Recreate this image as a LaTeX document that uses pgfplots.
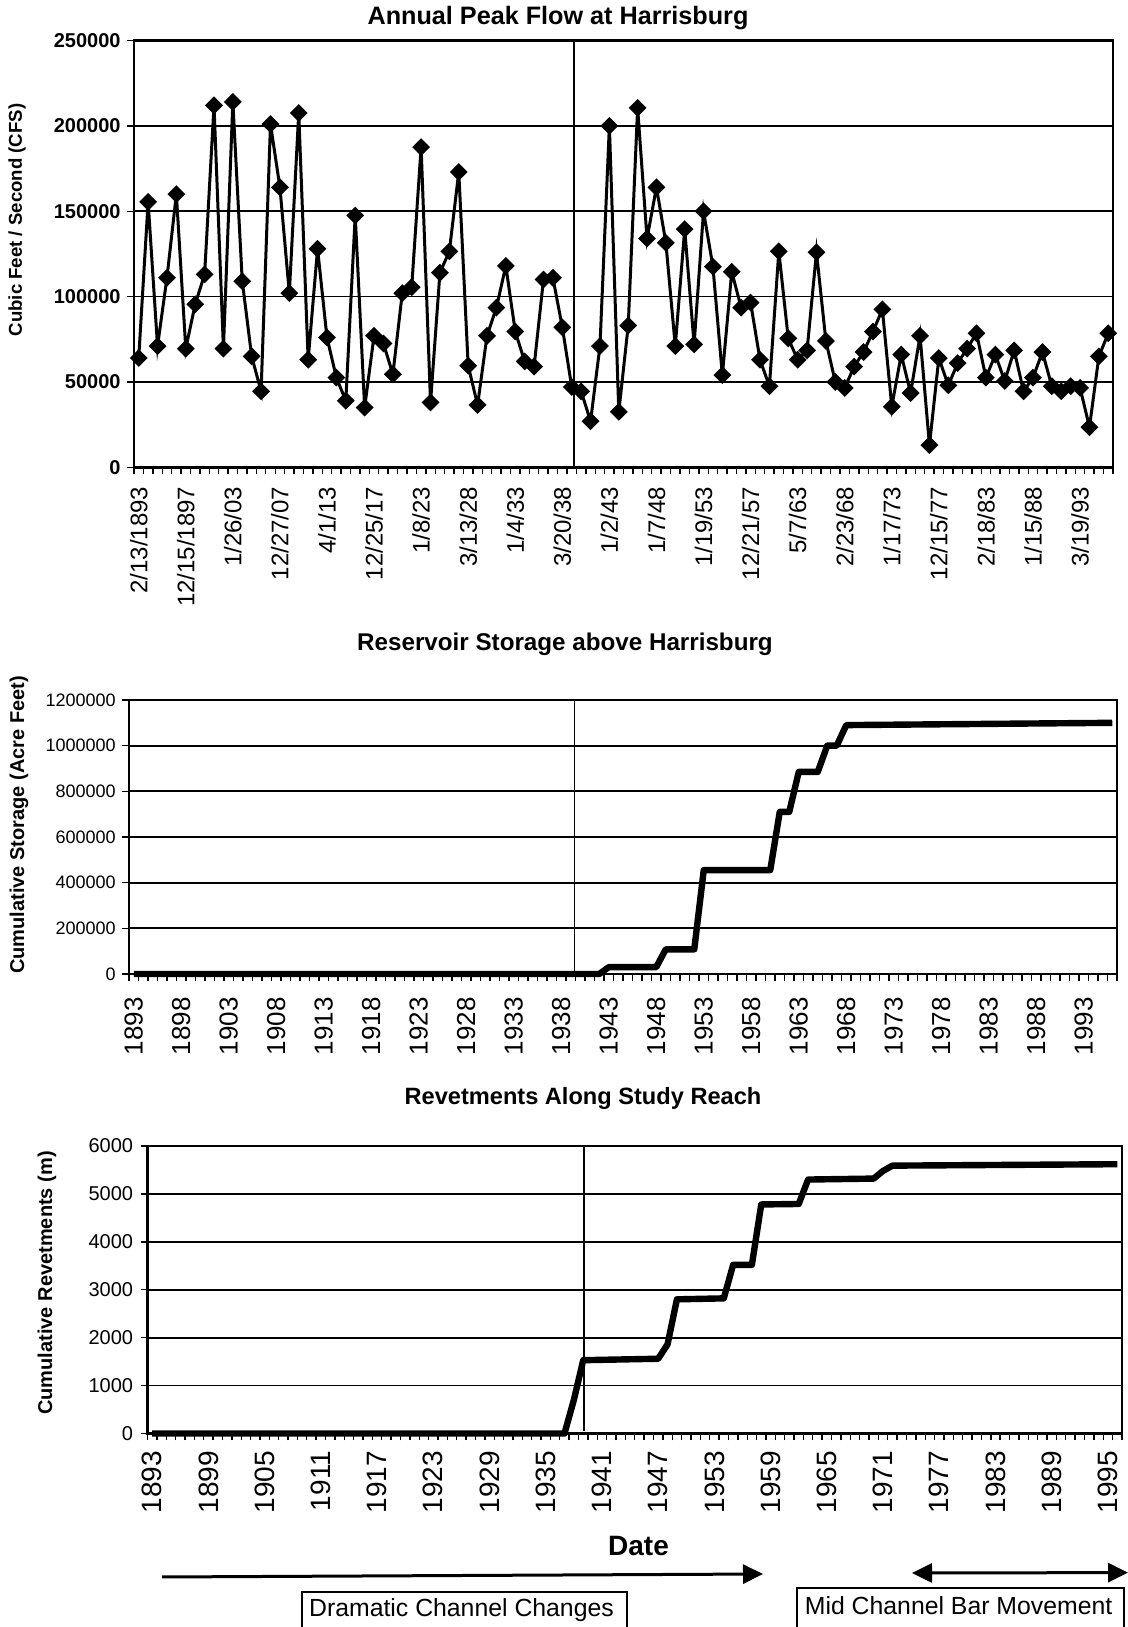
\documentclass[border=0pt]{standalone}
\usepackage{pgfplots}
\pgfplotsset{compat=1.18}
\usepackage{pgfplotstable}
\usepackage{fontspec}
\setmainfont{Liberation Sans}
\usetikzlibrary{arrows.meta}

\pgfplotstableread{
i v
0 64000
1 155500
2 71000
3 111000
4 160000
5 69500
6 95500
7 113000
8 212000
9 69500
10 214000
11 109000
12 65000
13 44500
14 201000
15 164000
16 102000
17 207500
18 63000
19 128000
20 76000
21 52500
22 39000
23 147500
24 35000
25 77000
26 72500
27 54500
28 102000
29 105500
30 187500
31 38000
32 114000
33 126500
34 173000
35 59500
36 36500
37 77000
38 93500
39 118000
40 79500
41 62000
42 59000
43 110000
44 111000
45 82000
46 47000
47 44500
48 27000
49 71000
50 200000
51 32500
52 83000
53 210500
54 134000
55 164000
56 131500
57 71000
58 139500
59 72000
60 150000
61 117500
62 54000
63 114500
64 93500
65 96500
66 63000
67 47500
68 126500
69 75500
70 63000
71 68500
72 126000
73 74000
74 50000
75 46500
76 59000
77 67500
78 79500
79 92500
80 35500
81 66000
82 43500
83 77000
84 13000
85 64000
86 48000
87 61000
88 69500
89 78500
90 52500
91 66000
92 50500
93 68500
94 44500
95 52500
96 67500
97 47500
98 44500
99 47500
100 46500
101 23500
102 65000
103 78500
}\peakdata

\pgfplotstableread{
year storage
1893 0
1942 0
1943 30000
1948 30000
1949 108000
1952 108000
1953 455000
1960 455000
1961 710000
1962 710000
1963 885000
1965 885000
1966 1000000
1967 1000000
1968 1090000
1996 1100000
}\storagedata

\pgfplotstableread{
year rev
1893 0
1937 0
1938 700
1939 1530
1947 1560
1948 1860
1949 2800
1954 2820
1955 3520
1957 3520
1958 4780
1962 4790
1963 5300
1970 5320
1971 5480
1972 5590
1996 5620
}\revdata

\pgfplotsset{
  excel/.style={
    scale only axis, anchor=south west,
    scaled y ticks=false, scaled x ticks=false,
    axis line style={black, line width=1.1pt},
    ymajorgrids, grid style={black, line width=0.9pt},
    tick align=outside, xtick pos=bottom, ytick pos=left,
    major tick length=3.5pt, minor tick length=3.5pt,
    tick style={black, line width=0.7pt},
    major x tick style={draw=none},
    xticklabel style={rotate=90, anchor=east, inner sep=0pt},
    yticklabel style={anchor=east, inner sep=0pt},
    clip=false,
  }
}

\begin{document}
\begin{tikzpicture}
\path[use as bounding box] (0pt,0pt) rectangle (564pt,813.5pt);
\clip (0pt,0pt) rectangle (564pt,813.5pt);

% ---------- Panel 1 ----------
\begin{axis}[excel, at={(67pt,579.85pt)}, width=489.5pt, height=213.4pt,
  xmin=-0.5, xmax=103.5, ymin=0, ymax=250000,
  axis line style={line width=1.3pt},
  xtick={0,5,...,100},
  xticklabels={2/13/1893,12/15/1897,1/26/03,12/27/07,4/1/13,12/25/17,1/8/23,3/13/28,1/4/33,3/20/38,1/2/43,1/7/48,1/19/53,12/21/57,5/7/63,2/23/68,1/17/73,12/15/77,2/18/83,1/15/88,3/19/93},
  minor xtick={-0.5,0.5,...,103.5},
  ytick={0,50000,100000,150000,200000,250000},
  yticklabels={0,50000,100000,150000,200000,250000},
  xticklabel style={font=\fontsize{12}{14}\selectfont},
  yticklabel style={font=\bfseries\fontsize{10}{12}\selectfont},
  xticklabel shift=6pt, yticklabel shift=3pt,
]
\addplot[black, line width=1.5pt, mark=square*, mark size=2.4pt, mark options={rotate=45, solid}] table[x=i,y=v]{\peakdata};
\addplot[black, line width=0.9pt] coordinates {(46.25,0) (46.25,250000)};
\end{axis}

% ---------- Panel 2 ----------
\begin{axis}[excel, at={(64.5pt,326.5pt)}, width=494pt, height=137pt,
  xmin=1892.5, xmax=1996.5, ymin=0, ymax=1200000,
  xtick={1893,1898,1903,1908,1913,1918,1923,1928,1933,1938,1943,1948,1953,1958,1963,1968,1973,1978,1983,1988,1993},
  xticklabels={1893,1898,1903,1908,1913,1918,1923,1928,1933,1938,1943,1948,1953,1958,1963,1968,1973,1978,1983,1988,1993},
  minor xtick={1892.5,1893.5,...,1996.5},
  ytick={0,200000,400000,600000,800000,1000000,1200000},
  yticklabels={0,200000,400000,600000,800000,1000000,1200000},
  xticklabel style={font=\fontsize{13}{15}\selectfont},
  yticklabel style={font=\fontsize{9}{11}\selectfont},
  xticklabel shift=8pt, yticklabel shift=3pt,
]
\addplot[black, line width=0.8pt] coordinates {(1939.4,0) (1939.4,1200000)};
\addplot[black, line width=3.2pt, line join=round] table[x=year,y=storage]{\storagedata};
\end{axis}

% ---------- Panel 3 ----------
\begin{axis}[excel, at={(73.75pt,96.75pt)}, width=487.25pt, height=143.75pt,
  xmin=1892.5, xmax=1996.5, ymin=0, ymax=6000,
  xtick={1893,1899,1905,1911,1917,1923,1929,1935,1941,1947,1953,1959,1965,1971,1977,1983,1989,1995},
  xticklabels={1893,1899,1905,1911,1917,1923,1929,1935,1941,1947,1953,1959,1965,1971,1977,1983,1989,1995},
  minor xtick={1892.5,1893.5,...,1996.5},
  ytick={0,1000,2000,3000,4000,5000,6000},
  yticklabels={0,1000,2000,3000,4000,5000,6000},
  xticklabel style={font=\fontsize{14}{16}\selectfont},
  yticklabel style={font=\fontsize{10}{12}\selectfont},
  xticklabel shift=5pt, yticklabel shift=3.5pt,
]
\addplot[black, line width=0.75pt] coordinates {(1939.1,60) (1939.1,6000)};
\addplot[black, line width=3.2pt, line join=round] table[x=year,y=rev]{\revdata};
\end{axis}

% ---------- Titles and labels ----------
\node[font=\bfseries\fontsize{12.6}{14}\selectfont] at (279pt,804.25pt) {Annual Peak Flow at Harrisburg};
\node[font=\bfseries\fontsize{12.1}{14}\selectfont] at (282.5pt,491.5pt) {Reservoir Storage above Harrisburg};
\node[font=\bfseries\fontsize{11.8}{14}\selectfont] at (291.5pt,264.5pt) {Revetments Along Study Reach};

\node[rotate=90, font=\bfseries\fontsize{9.3}{11}\selectfont] at (8.5pt,703.5pt) {Cubic Feet / Second (CFS)};
\node[rotate=90, font=\bfseries\fontsize{10}{12}\selectfont] at (9.5pt,401pt) {Cumulative Storage (Acre Feet)};
\node[rotate=90, font=\bfseries\fontsize{10}{12}\selectfont] at (23.5pt,172pt) {Cumulative Revetments (m)};

\node[font=\bfseries\fontsize{14}{16}\selectfont] at (319.25pt,40.5pt) {Date};

\draw[line width=1.5pt, -{Triangle[length=10pt,width=9.5pt]}] (81pt,25pt) -- (381.5pt,26.5pt);
\draw[line width=1.5pt, {Triangle[length=10pt,width=9.5pt]}-{Triangle[length=10pt,width=9.5pt]}] (456pt,27pt) -- (564pt,27.2pt);

\draw[line width=0.9pt] (151pt,-3pt) rectangle (313.5pt,17.65pt);
\node[font=\fontsize{12.4}{14}\selectfont] at (230.75pt,8.6pt) {Dramatic Channel Changes};
\draw[line width=0.9pt] (398.5pt,-3pt) rectangle (562pt,19.35pt);
\node[font=\fontsize{12.4}{14}\selectfont] at (479.3pt,10.5pt) {Mid Channel Bar Movement};
\end{tikzpicture}
\end{document}
